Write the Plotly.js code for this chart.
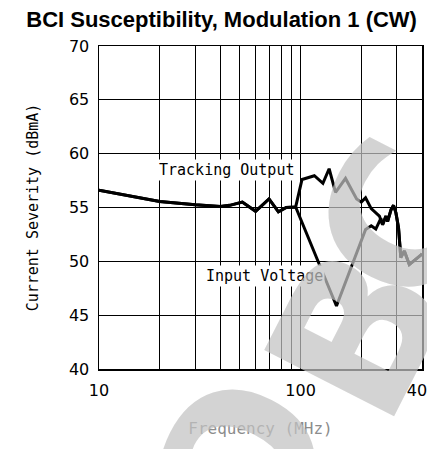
<!DOCTYPE html>
<html>
<head>
<meta charset="utf-8">
<script src="https://cdn.plot.ly/plotly-3.0.1.min.js"></script>
<style>
  body { margin: 0; background: #fff; }
  #chart { width: 427px; height: 449px; }
</style>
</head>
<body>
<div id="chart"></div>
<script>
// values (MHz, dBmA)
const trackFreq = [10, 15, 20, 30, 40, 44.5, 51.4, 59.8, 69.7, 77.6, 84.9, 94.5,
    101.6, 117, 129, 138.5, 149, 167, 189.6, 200, 210, 224, 246,
    255, 265, 270, 281, 289, 297, 306, 314, 327, 346, 396, 400];
const trackLevel = [56.6, 56.0, 55.55, 55.25, 55.1, 55.2, 55.5, 54.65, 55.8, 54.6, 55.0, 55.05,
    57.6, 57.95, 57.25, 58.6, 56.4, 57.7, 55.8, 55.5, 55.9, 54.9, 54.2,
    53.4, 54.2, 53.7, 54.8, 55.2, 54.5, 53.1, 50.35, 50.97, 49.7, 50.6, 50.7];

const inputFreq = [10, 15, 20, 30, 40, 44.5, 51.4, 59.8, 69.7, 77.6, 84.9, 94.5,
    150.6, 210, 224, 236, 250,
    255, 265, 270, 281, 289, 297, 306, 314, 327, 346, 396, 400];
const inputLevel = [56.6, 56.0, 55.55, 55.25, 55.1, 55.2, 55.5, 54.65, 55.8, 54.6, 55.0, 55.05,
    45.85, 52.95, 53.3, 53.0, 54.0,
    53.4, 54.2, 53.7, 54.8, 55.2, 54.5, 53.1, 50.35, 50.97, 49.7, 50.6, 50.7];

const gridFreq = [10, 20, 30, 40, 50, 60, 70, 80, 90, 100, 200, 300, 400];
const gridText = ['10', '', '', '', '', '', '', '', '', '100', '', '', '400'];

const tickFont = { family: 'DejaVu Sans', size: 16, color: '#000' };
const monoFont = { family: 'DejaVu Sans Mono', size: 15, color: '#000' };
const markFont = { family: 'DejaVu Sans', size: 200, weight: 'bold', color: 'rgba(194,194,194,0.72)' };

let traces = [
    {
        x: trackFreq, y: trackLevel, type: 'scatter', mode: 'lines',
        name: 'Tracking Output', line: { color: '#000', width: 3 }
    },
    {
        x: inputFreq, y: inputLevel, type: 'scatter', mode: 'lines',
        name: 'Input Voltage', line: { color: '#000', width: 3 }
    }
];

// watermark letter: centre in page pixels, turned like the reference
function markLetter(letter, px, py) {
    return {
        text: letter, xref: 'paper', yref: 'paper',
        x: (px - 99) / 323, y: (369 - py) / 323,
        xanchor: 'center', yanchor: 'middle',
        showarrow: false, textangle: -63, font: markFont
    };
}

let layout = {
    width: 427,
    height: 449,
    margin: { l: 99, r: 5, t: 46, b: 80 },
    paper_bgcolor: '#fff',
    plot_bgcolor: '#fff',
    showlegend: false,
    title: {
        text: 'BCI Susceptibility, Modulation 1 (CW)',
        font: { family: 'Liberation Sans, Arial', size: 22, weight: 'bold', color: '#000' },
        x: 0.519, xanchor: 'center',
        y: 0.957, yanchor: 'middle'
    },
    xaxis: {
        type: 'log',
        range: [1, Math.log10(400)],
        tickvals: gridFreq,
        ticktext: gridText,
        ticks: '',
        ticklabelstandoff: 6,
        ticklabeloverflow: 'allow',
        tickfont: tickFont,
        showgrid: true, gridcolor: '#000', gridwidth: 1,
        showline: true, linecolor: '#000', linewidth: 1.5, mirror: true,
        zeroline: false,
        // the reference shows this title greyed out by the watermark
        title: { text: 'Frequency (MHz)', font: { family: 'DejaVu Sans Mono', size: 16, color: '#8c8c8c' }, standoff: 24 }
    },
    yaxis: {
        range: [40, 70],
        dtick: 5,
        ticks: '',
        ticklabelstandoff: 5,
        tickfont: tickFont,
        showgrid: true, gridcolor: '#000', gridwidth: 1,
        showline: true, linecolor: '#000', linewidth: 1.5, mirror: true,
        zeroline: false,
        title: { text: 'Current Severity (dBmA)', font: monoFont, standoff: 26 }
    },
    annotations: [
        {
            text: 'Tracking Output', xref: 'paper', yref: 'paper', x: 0.395, y: 0.616,
            showarrow: false, font: monoFont, bgcolor: '#fff', borderpad: 1
        },
        {
            text: 'Input Voltage', xref: 'paper', yref: 'paper', x: 0.511, y: 0.254,
            showarrow: false, font: monoFont, bgcolor: '#fff', borderpad: 1
        },
        markLetter('B', 358, 333),
        markLetter('C', 402, 222),
        markLetter('O', 240, 468)
    ]
};

Plotly.newPlot('chart', traces, layout, { displayModeBar: false, staticPlot: true });
</script>
</body>
</html>
